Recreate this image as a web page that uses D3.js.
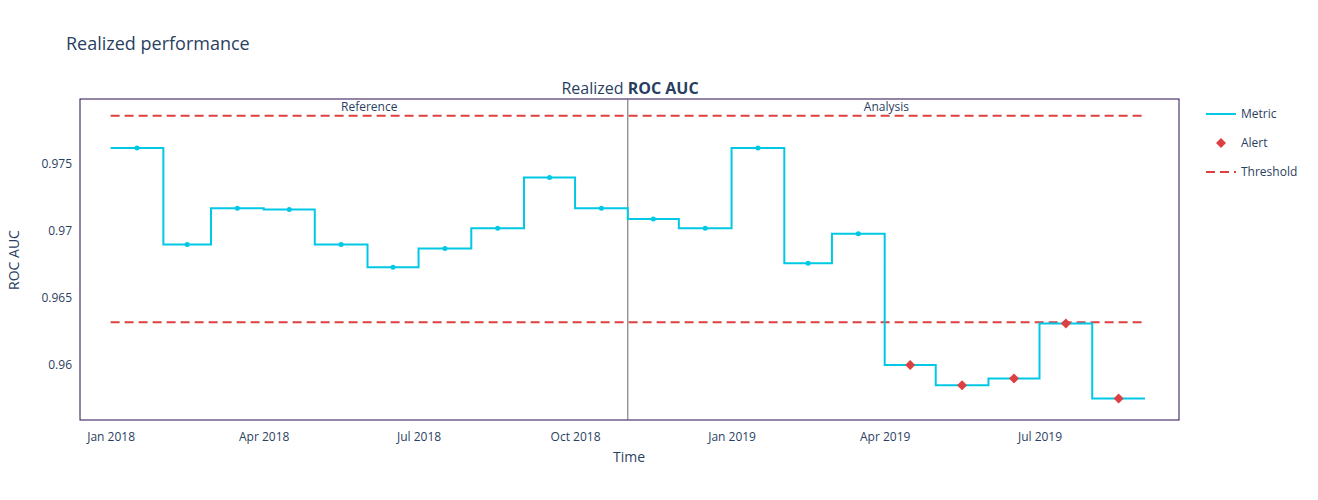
<!DOCTYPE html><html><head><meta charset="utf-8"><script src="https://cdn.jsdelivr.net/npm/d3@7"></script>
<style>body{margin:0;background:#fff;font-family:"Open Sans",sans-serif}</style></head><body><svg id="c" width="1318" height="500"></svg>
<script>
const months=["2018-01","2018-02","2018-03","2018-04","2018-05","2018-06","2018-07","2018-08","2018-09","2018-10","2018-11","2018-12","2019-01","2019-02","2019-03","2019-04","2019-05","2019-06","2019-07","2019-08"];
const values=[0.9762,0.9690,0.9717,0.9716,0.9690,0.9673,0.9687,0.9702,0.9740,0.9717,0.9709,0.9702,0.9762,0.9676,0.9698,0.9600,0.9585,0.9590,0.9631,0.9575];
const periods=["Reference","Reference","Reference","Reference","Reference","Reference","Reference","Reference","Reference","Reference","Analysis","Analysis","Analysis","Analysis","Analysis","Analysis","Analysis","Analysis","Analysis","Analysis"];
const upperThreshold=0.9786, lowerThreshold=0.9632;
const yTicks=[0.96,0.965,0.97,0.975];
const xTicks=["2018-01-01","2018-04-01","2018-07-01","2018-10-01","2019-01-01","2019-04-01","2019-07-01"];
const xTickLabels=["Jan 2018","Apr 2018","Jul 2018","Oct 2018","Jan 2019","Apr 2019","Jul 2019"];

const svg=d3.select("#c");
const L=80,R=1179,T=99,B=420;
const pd=d3.utcParse("%Y-%m-%d"), pm=d3.utcParse("%Y-%m");
const x=d3.scaleUtc().domain([pd("2017-12-14"),pd("2019-09-21")]).range([L,R]);
const y=d3.scaleLinear().domain([0.9559,0.97985]).range([B,T]);
const data=months.map((m,i)=>{const s=pm(m),e=d3.utcMonth.offset(s,1);return {s,e,mid:new Date((+s+ +e)/2),v:values[i],p:periods[i],alert:values[i]<lowerThreshold||values[i]>upperThreshold};});
const txt="#2a3f5f";
svg.append("text").attr("x",66).attr("y",50).attr("font-size",18).attr("fill",txt).text("Realized performance");
const st=svg.append("text").attr("x",630).attr("y",94).attr("text-anchor","middle").attr("font-size",16).attr("fill",txt);
st.append("tspan").text("Realized ");st.append("tspan").attr("font-weight","bold").text("ROC AUC");
const gx=svg.append("g").attr("transform",`translate(0,${B})`).call(d3.axisBottom(x).tickValues(xTicks.map(pd)).tickFormat((d,i)=>xTickLabels[i]).tickSize(0).tickPadding(12));
const gy=svg.append("g").attr("transform",`translate(${L},0)`).call(d3.axisLeft(y).tickValues(yTicks).tickFormat(d3.format("~g")).tickSize(0).tickPadding(8));
[gx,gy].forEach(g=>{g.select(".domain").remove();g.selectAll("text").attr("fill",txt).attr("font-size",12).attr("font-family","Open Sans");});
svg.append("text").attr("x",629).attr("y",462).attr("text-anchor","middle").attr("font-size",14).attr("fill",txt).text("Time");
svg.append("text").attr("transform","translate(19,260) rotate(-90)").attr("text-anchor","middle").attr("font-size",14).attr("fill",txt).text("ROC AUC");
svg.append("rect").attr("x",L).attr("y",T).attr("width",R-L).attr("height",B-T).attr("fill","none").attr("stroke","#2a0a50").attr("stroke-width",1);
const split=data.find(d=>d.p==="Analysis").s;
svg.append("line").attr("x1",x(split)).attr("x2",x(split)).attr("y1",T).attr("y2",B).attr("stroke","#666").attr("stroke-width",1);
const refMid=(x(data[0].s)+x(split))/2, anaMid=(x(split)+x(data[data.length-1].e))/2;
svg.append("text").attr("x",refMid).attr("y",111).attr("text-anchor","middle").attr("font-size",12).attr("fill",txt).text("Reference");
svg.append("text").attr("x",anaMid).attr("y",111).attr("text-anchor","middle").attr("font-size",12).attr("fill",txt).text("Analysis");
[upperThreshold,lowerThreshold].forEach(t=>svg.append("line").attr("x1",x(data[0].s)).attr("x2",x(data[data.length-1].e)).attr("y1",y(t)).attr("y2",y(t)).attr("stroke","#dd4040").attr("stroke-width",2).attr("stroke-dasharray","9,5"));
const pts=[];data.forEach(d=>{pts.push([x(d.s),y(d.v)]);pts.push([x(d.e),y(d.v)]);});
svg.append("path").attr("d",d3.line()(pts)).attr("fill","none").attr("stroke","#00c8e5").attr("stroke-width",2);
svg.selectAll(".pt").data(data.filter(d=>!d.alert)).join("circle").attr("cx",d=>x(d.mid)).attr("cy",d=>y(d.v)).attr("r",2.5).attr("fill","#00c8e5");
const dia=d3.symbol(d3.symbolSquare,50);
svg.selectAll(".al").data(data.filter(d=>d.alert)).join("path").attr("transform",d=>`translate(${x(d.mid)},${y(d.v)}) rotate(45)`).attr("d",dia).attr("fill","#dd4040");
const lg=svg.append("g").attr("transform","translate(1206,0)");
lg.append("line").attr("x1",0).attr("x2",30).attr("y1",114).attr("y2",114).attr("stroke","#00c8e5").attr("stroke-width",2);
lg.append("path").attr("transform","translate(15,143) rotate(45)").attr("d",dia).attr("fill","#dd4040");
lg.append("line").attr("x1",0).attr("x2",30).attr("y1",172).attr("y2",172).attr("stroke","#dd4040").attr("stroke-width",2).attr("stroke-dasharray","9,5");
[["Metric",114],["Alert",143],["Threshold",172]].forEach(([t,yy])=>lg.append("text").attr("x",35).attr("y",yy+4).attr("font-size",12).attr("fill",txt).text(t));
</script></body></html>
